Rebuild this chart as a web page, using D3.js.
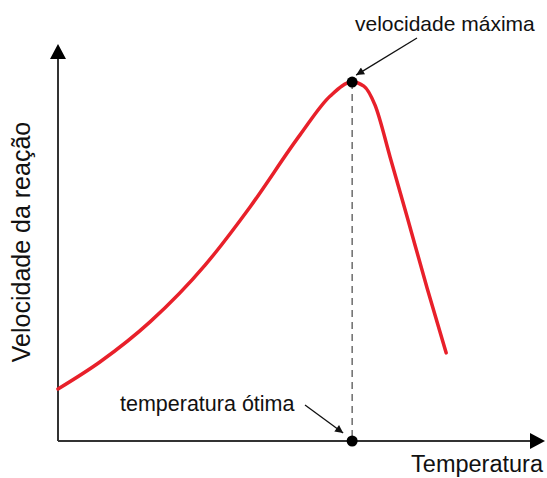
<!DOCTYPE html>
<meta charset="utf-8">
<style>
    body {
        margin: 0;
        background: #fff;
    }

    text {
        font-family: "Liberation Sans", Arial, sans-serif;
        fill: #111;
    }

    .axis {
        stroke: #333;
        stroke-width: 2px;
    }

    .curve {
        fill: none;
        stroke: #e8202a;
        stroke-width: 3.5px;
        stroke-linecap: round;
    }

    .guide {
        stroke: #555;
        stroke-width: 1.3px;
        stroke-dasharray: 7, 5;
    }

    .pointer {
        stroke: #111;
        stroke-width: 1.3px;
    }
</style>

<body>
    <script src="https://d3js.org/d3.v7.min.js"></script>
    <script>
      // curve (temperature 0-100, velocity 0-100)
      var temperature = [0, 8.6, 18.9, 30.2, 39.4, 49.7, 55.9, 60.4, 62.8, 65.1, 68.2, 71.7, 75.8, 79.7];
      var velocity = [13.1, 19.9, 30.0, 44.3, 58.9, 77.1, 86.9, 90.4, 89.4, 84.6, 71.5, 56.4, 38.5, 22.2];
      var optimumTemp = [60.4];
      var maxVelocity = [90.4];
      var labels = ["velocidade máxima", "temperatura ótima", "Temperatura", "Velocidade da reação"];

      var width = 547, height = 478;

      var svg = d3.select("body").append("svg").attr("width", width).attr("height", height);

      var x = d3.scaleLinear().domain([0, 100]).range([58, 545]);
      var y = d3.scaleLinear().domain([0, 100]).range([441, 44]);

      var data = temperature.map(function(t, i) { return [t, velocity[i]]; });

      // axes with arrow heads
      svg.append("line").attr("class", "axis")
          .attr("x1", x(0)).attr("y1", y(0)).attr("x2", x(0)).attr("y2", y(100) + 14);
      svg.append("line").attr("class", "axis")
          .attr("x1", x(0)).attr("y1", y(0)).attr("x2", x(100) - 14).attr("y2", y(0));

      svg.append("path").attr("fill", "#000")
          .attr("d", "M" + x(0) + "," + y(100) + "l-8,15h16z");
      svg.append("path").attr("fill", "#000")
          .attr("d", "M" + x(100) + "," + y(0) + "l-15,-8v16z");

      // dashed guide from the peak down to the axis
      svg.append("line").attr("class", "guide")
          .attr("x1", x(optimumTemp[0])).attr("y1", y(maxVelocity[0]))
          .attr("x2", x(optimumTemp[0])).attr("y2", y(0));

      var line = d3.line()
          .x(d => x(d[0]))
          .y(d => y(d[1]))
          .curve(d3.curveMonotoneX);

      svg.append("path").datum(data).attr("class", "curve").attr("d", line);

      svg.selectAll(".dot").data([[optimumTemp[0], maxVelocity[0]], [optimumTemp[0], 0]])
          .enter().append("circle").attr("class", "dot")
          .attr("cx", d => x(d[0])).attr("cy", d => y(d[1]))
          .attr("r", 5.5).attr("fill", "#000");

      // annotation arrows
      svg.append("defs").append("marker")
          .attr("id", "head").attr("viewBox", "0 0 10 10")
          .attr("refX", 10).attr("refY", 5)
          .attr("markerWidth", 11).attr("markerHeight", 8)
          .attr("markerUnits", "userSpaceOnUse")
          .attr("orient", "auto")
          .append("path").attr("d", "M0,0L10,5L0,10z").attr("fill", "#111");

      svg.append("line").attr("class", "pointer")
          .attr("x1", 417).attr("y1", 38)
          .attr("x2", x(optimumTemp[0]) + 4).attr("y2", y(maxVelocity[0]) - 7)
          .attr("marker-end", "url(#head)");

      svg.append("line").attr("class", "pointer")
          .attr("x1", 305).attr("y1", 405)
          .attr("x2", x(optimumTemp[0]) - 9).attr("y2", y(0) - 8)
          .attr("marker-end", "url(#head)");

      svg.append("text").attr("x", 355).attr("y", 31)
          .style("font-size", "21px").text(labels[0]);

      svg.append("text").attr("x", 120).attr("y", 411)
          .style("font-size", "21.5px").text(labels[1]);

      svg.append("text").attr("x", 543).attr("y", 472)
          .attr("text-anchor", "end")
          .style("font-size", "23.5px").text(labels[2]);

      svg.append("text")
          .attr("transform", "translate(30," + 242 + ") rotate(-90)")
          .attr("text-anchor", "middle")
          .style("font-size", "25px").text(labels[3]);
    </script>
</body>
